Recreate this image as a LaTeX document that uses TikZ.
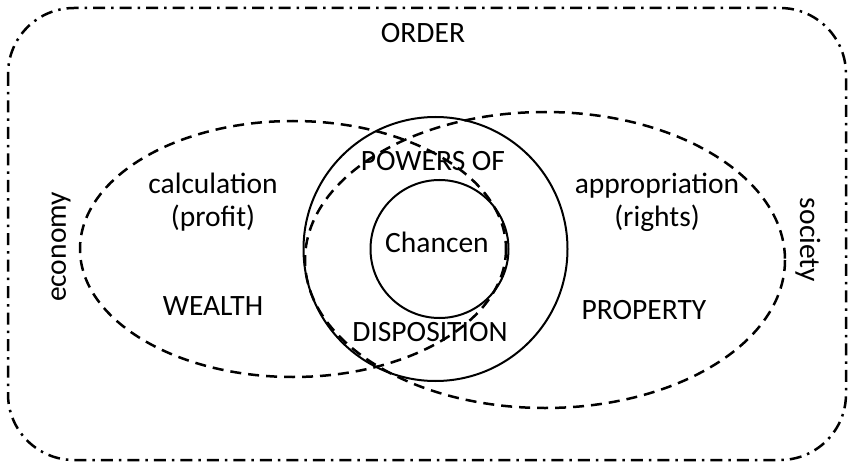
\documentclass[tikz,border=0pt]{standalone}
\usepackage{fontspec}
\setmainfont{Carlito}
\begin{document}
\begin{tikzpicture}[x=1pt,y=-1pt,
  lbl/.style={font=\fontsize{29.5}{33}\selectfont, align=center, inner sep=0pt},
  realm/.style={draw, line width=2.5pt, dash pattern=on 11pt off 7pt},
  ring/.style={draw, line width=2pt},
  frame/.style={draw, line width=2.5pt, rounded corners=66pt, dash pattern=on 12pt off 6pt on 2.5pt off 6pt}]
\useasboundingbox (0,0) rectangle (849,468);
% outer frame: the order
\draw[frame] (8,8) rectangle (846,460);
% economy and society
\draw[realm] (293,249) ellipse [x radius=213, y radius=128];
\draw[realm] (545,260) ellipse [x radius=240, y radius=148];
% powers of disposition and the chances
\draw[ring] (435.5,249) circle [radius=132];
\draw[ring] (439.5,249) circle [radius=69];
% labels
\node[lbl] (order) at (423,33) {ORDER};
\node[lbl] (calc) at (213,202) {calculation\\(profit)};
\node[lbl] (wealth) at (213,306) {WEALTH};
\node[lbl] (approp) at (657,202) {appropriation\\(rights)};
\node[lbl] (property) at (644,310) {PROPERTY};
\node[lbl] (powers) at (433,161) {POWERS OF};
\node[lbl] (chancen) at (437,242) {Chancen};
\node[lbl] (dispo) at (430,332) {DISPOSITION};
\node[lbl, rotate=90] (economy) at (61,247) {economy};
\node[lbl, rotate=-90] (society) at (808,240) {society};
\end{tikzpicture}
\end{document}
